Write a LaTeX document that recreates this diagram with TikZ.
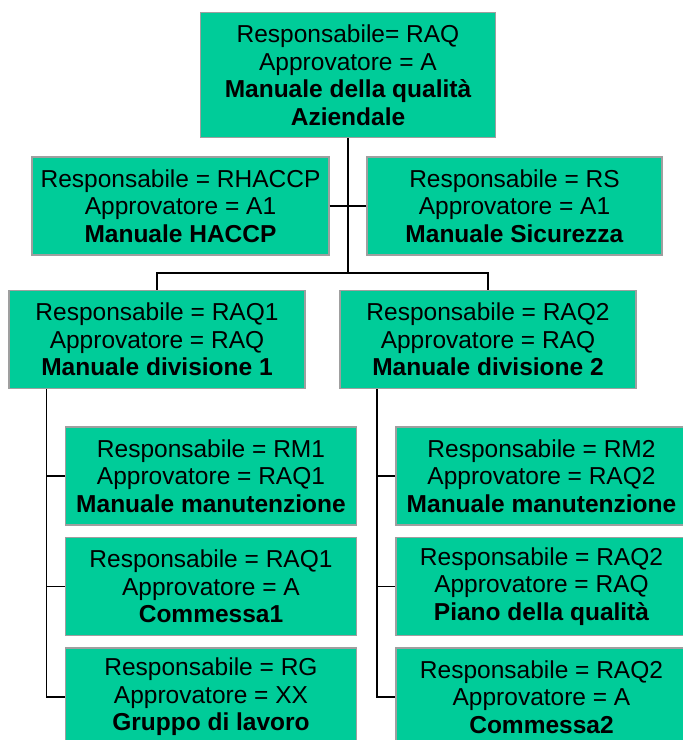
\documentclass[tikz,border=0pt]{standalone}
\usepackage{fontspec}
\setmainfont{Liberation Sans}
\definecolor{boxgreen}{HTML}{00CC99}

\begin{document}
\begin{tikzpicture}[x=1pt,y=-1pt,
    doc/.style={draw=gray!75, line width=1.3pt, fill=boxgreen, align=center,
        inner sep=0pt, minimum width=#1, minimum height=98pt,
        font=\fontsize{24.5}{27.5}\selectfont},
    doc/.default=296pt,
    link/.style={line width=1.6pt}]
  \clip (0,0) rectangle (683,740);

  % top manual
  \node[doc=295pt, minimum height=125pt] (qual) at (348,75)
    {Responsabile= RAQ\\Approvatore = A\\\textbf{Manuale della qualità}\\\textbf{Aziendale}};

  % side manuals
  \node[doc=297pt] (haccp) at (180.5,206)
    {Responsabile = RHACCP\\Approvatore = A1\\\textbf{Manuale HACCP}};
  \node[doc=295pt] (sic) at (514.5,206)
    {Responsabile = RS\\Approvatore = A1\\\textbf{Manuale Sicurezza}};

  % divisions
  \node[doc] (div1) at (157,339.5)
    {Responsabile = RAQ1\\Approvatore = RAQ\\\textbf{Manuale divisione 1}};
  \node[doc] (div2) at (488,339.5)
    {Responsabile = RAQ2\\Approvatore = RAQ\\\textbf{Manuale divisione 2}};

  % documents of division 1
  \node[doc=291pt] (man1) at (211,476)
    {Responsabile = RM1\\Approvatore = RAQ1\\\textbf{Manuale manutenzione}};
  \node[doc=291pt] (com1) at (211,586.5)
    {Responsabile = RAQ1\\Approvatore = A\\\textbf{Commessa1}};
  \node[doc=291pt] (grp1) at (211,697)
    {Responsabile = RG\\Approvatore = XX\\\textbf{Gruppo di lavoro}};

  % documents of division 2
  \node[doc=291pt] (man2) at (541.5,476)
    {Responsabile = RM2\\Approvatore = RAQ2\\\textbf{Manuale manutenzione}};
  \node[doc=291pt] (pq2) at (541.5,586.5)
    {Responsabile = RAQ2\\Approvatore = RAQ\\\textbf{Piano della qualità}};
  \node[doc=291pt] (com2) at (541.5,697)
    {Responsabile = RAQ2\\Approvatore = A\\\textbf{Commessa2}};

  % connectors
  \coordinate (bar) at (348,273);
  \coordinate (sp1) at (46.5,0);
  \coordinate (sp2) at (377,0);
  \draw[link] (qual.south) -- (bar);
  \draw[link] (haccp.east) -- (sic.west);
  \draw[link] (div1.north) |- (bar) -| (div2.north);
  \draw[link] (div1.south -| sp1) |- (grp1.west);
  \draw[link] (div2.south -| sp2) |- (com2.west);
  \foreach \n in {man1,com1} \draw[link] (sp1 |- \n.west) -- (\n.west);
  \foreach \n in {man2,pq2} \draw[link] (sp2 |- \n.west) -- (\n.west);
\end{tikzpicture}
\end{document}
